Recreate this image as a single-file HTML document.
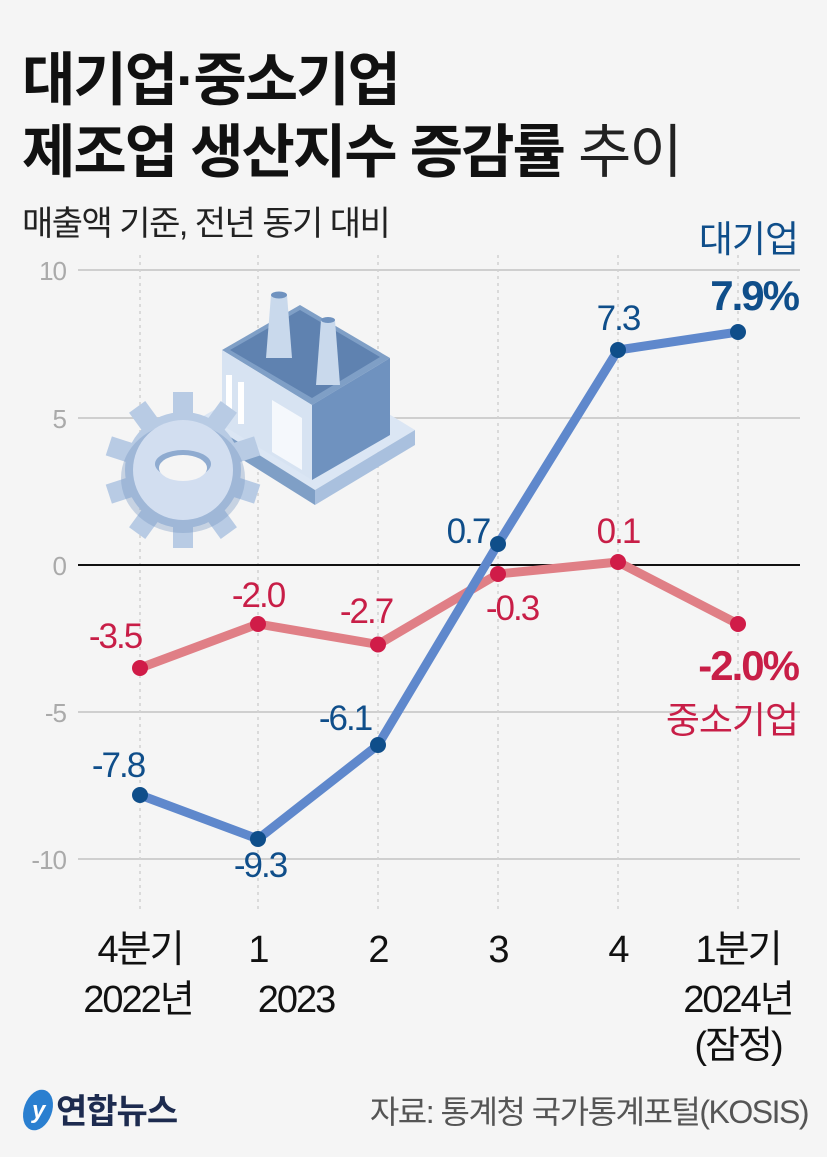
<!DOCTYPE html>
<html><head><meta charset="utf-8"><style>
html,body{margin:0;padding:0;background:#f5f5f5;}
svg{display:block;}
text{font-family:"Liberation Sans","Noto Sans CJK KR",sans-serif;}
</style></head><body>
<svg width="827" height="1157" viewBox="0 0 827 1157" xmlns="http://www.w3.org/2000/svg">
<rect width="827" height="1157" fill="#f5f5f5"/>
<text x="22" y="100" font-size="58" font-weight="bold" fill="#111" letter-spacing="-2">대기업·중소기업</text>
<text x="22" y="172" font-size="58" font-weight="bold" fill="#111" letter-spacing="-2">제조업 생산지수 증감률<tspan font-weight="normal" fill="#222"> 추이</tspan></text>
<text x="22" y="235" font-size="34" fill="#222" letter-spacing="-1.5">매출액 기준, 전년 동기 대비</text>
<g stroke="#cfcfcf" stroke-width="2">
<line x1="78" y1="270" x2="800" y2="270"/>
<line x1="78" y1="418" x2="800" y2="418"/>
<line x1="78" y1="712" x2="800" y2="712"/>
<line x1="78" y1="859" x2="800" y2="859"/>
</g>
<g stroke="#d2d2d2" stroke-width="1.5" stroke-dasharray="3,4">
<line x1="140" y1="255" x2="140" y2="910"/>
<line x1="258" y1="255" x2="258" y2="910"/>
<line x1="378" y1="255" x2="378" y2="910"/>
<line x1="498" y1="255" x2="498" y2="910"/>
<line x1="618" y1="255" x2="618" y2="910"/>
<line x1="738" y1="255" x2="738" y2="910"/>
</g>
<g font-size="26" fill="#aaa" text-anchor="end" letter-spacing="-1">
<text x="66" y="280">10</text><text x="66" y="428">5</text><text x="66" y="575">0</text>
<text x="66" y="722">-5</text><text x="66" y="869">-10</text>
</g>
<g>
<polygon points="200,418 300,360 415,430 315,490" fill="#dbe6f4"/>
<polygon points="200,418 315,490 315,505 200,433" fill="#7f9fc6"/>
<polygon points="315,490 415,430 415,445 315,505" fill="#a9c0de"/>
<polygon points="222,350 300,305 390,358 312,405" fill="#7f9fc6"/>
<polygon points="230,350 300,310 380,357 312,398" fill="#5f82b0"/>
<polygon points="222,350 312,405 312,480 222,425" fill="#d7e3f2"/>
<polygon points="312,405 390,358 390,435 312,480" fill="#6f92bf"/>
<polygon points="272,400 302,418 302,470 272,452" fill="#f5f8fc"/>
<rect x="226" y="375" width="6" height="42" fill="#fff"/>
<rect x="238" y="382" width="6" height="42" fill="#fff"/>
<polygon points="271,295 287,295 292,358 266,358" fill="#c9d9ec"/>
<ellipse cx="279" cy="295" rx="8" ry="3.5" fill="#6f92bf"/>
<polygon points="321,320 335,320 340,385 316,385" fill="#c9d9ec"/>
<ellipse cx="328" cy="320" rx="7" ry="3" fill="#6f92bf"/>
<g transform="translate(183,470)">
<g fill="#b8cbe4">
<circle r="58"/>
<g id="t"><rect x="-10" y="-78" width="20" height="26"/></g>
<use href="#t" transform="rotate(36)"/><use href="#t" transform="rotate(72)"/><use href="#t" transform="rotate(108)"/><use href="#t" transform="rotate(144)"/><use href="#t" transform="rotate(180)"/><use href="#t" transform="rotate(216)"/><use href="#t" transform="rotate(252)"/><use href="#t" transform="rotate(288)"/><use href="#t" transform="rotate(324)"/>
</g>
<ellipse cx="0" cy="8" rx="62" ry="55" fill="#6f92bf" opacity="0.35"/>
<circle r="50" fill="#d2def0"/>
<ellipse cx="0" cy="-6" rx="28" ry="14" fill="#8fabd0"/>
<ellipse cx="0" cy="-2" rx="24" ry="13" fill="#f5f5f5"/>
</g>
</g>
<line x1="78" y1="565" x2="800" y2="565" stroke="#111" stroke-width="2"/>
<polyline points="140,668 258,624 378,644.5 498,574 618,562 738,624" fill="none" stroke="#e07f86" stroke-width="9" stroke-linejoin="round"/>
<polyline points="140,795 258,839 378,745 498,544 618,350 738,332" fill="none" stroke="#5f88cc" stroke-width="9" stroke-linejoin="round"/>
<g fill="#d01c48">
<circle cx="140" cy="668" r="8"/><circle cx="258" cy="624" r="8"/><circle cx="378" cy="644.5" r="8"/><circle cx="498" cy="574" r="8"/><circle cx="618" cy="562" r="8"/><circle cx="738" cy="624" r="8"/>
</g>
<g fill="#0f4e8a">
<circle cx="140" cy="795" r="8"/><circle cx="258" cy="839" r="8"/><circle cx="378" cy="745" r="8"/><circle cx="498" cy="544" r="8"/><circle cx="618" cy="350" r="8"/><circle cx="738" cy="332" r="8"/>
</g>
<g font-size="35" fill="#c81e47" text-anchor="middle" letter-spacing="-2">
<text x="115" y="648">-3.5</text><text x="258" y="607">-2.0</text><text x="366" y="623">-2.7</text>
<text x="512" y="620">-0.3</text><text x="618" y="543">0.1</text>
</g>
<text x="798" y="680" font-size="42" font-weight="bold" fill="#c81e47" text-anchor="end" letter-spacing="-2">-2.0%</text>
<text x="798" y="733" font-size="37" fill="#c81e47" text-anchor="end" letter-spacing="-1">중소기업</text>
<g font-size="35" fill="#0f4e8a" text-anchor="middle" letter-spacing="-2">
<text x="118" y="777">-7.8</text><text x="260" y="877">-9.3</text><text x="345" y="730">-6.1</text>
<text x="468" y="543">0.7</text><text x="618" y="330">7.3</text>
</g>
<text x="798" y="252" font-size="37" fill="#0f4e8a" text-anchor="end" letter-spacing="-1">대기업</text>
<text x="798" y="310" font-size="42" font-weight="bold" fill="#0f4e8a" text-anchor="end" letter-spacing="-2">7.9%</text>
<g font-size="38" fill="#111" text-anchor="middle" letter-spacing="-2">
<text x="140" y="962">4분기</text><text x="138" y="1012">2022년</text>
<text x="258" y="962">1</text><text x="296" y="1012">2023</text>
<text x="378" y="962">2</text><text x="498" y="962">3</text><text x="618" y="962">4</text>
<text x="738" y="962">1분기</text><text x="738" y="1012">2024년</text><text x="738" y="1058">(잠정)</text>
</g>
<g transform="translate(38,1110)">
<ellipse cx="0" cy="0" rx="14" ry="21" fill="#2a7fd0" transform="rotate(20)"/>
<text x="-6" y="8" font-size="24" font-style="italic" fill="#fff" font-weight="bold">y</text>
</g>
<text x="56" y="1123" font-size="34" font-weight="bold" fill="#1d2b4f" letter-spacing="-1">연합뉴스</text>
<text x="808" y="1123" font-size="32" fill="#555" text-anchor="end" letter-spacing="-1.5">자료: 통계청 국가통계포털(KOSIS)</text>
</svg>
</body></html>
